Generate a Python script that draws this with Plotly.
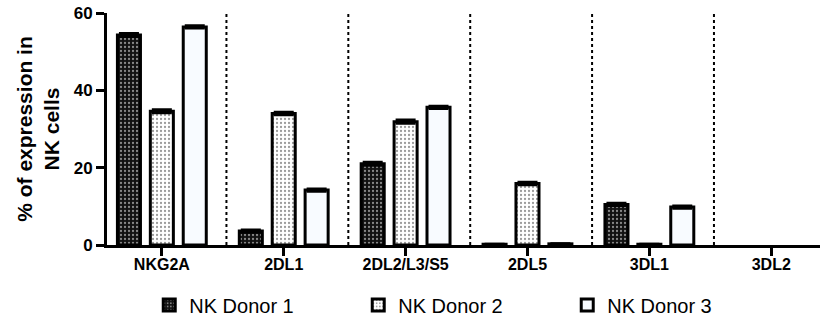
import numpy as np
import plotly.graph_objects as go

# KIR / NKG2A receptor expression on NK cells from three donors
receptors = ["NKG2A", "2DL1", "2DL2/L3/S5", "2DL5", "3DL1", "3DL2"]
donor1 = [54.3, 3.6, 21.0, 0.2, 10.5, 0.0]
donor2 = [34.6, 34.0, 31.9, 15.9, 0.2, 0.0]
donor3 = [56.4, 14.2, 35.6, 0.3, 9.8, 0.0]
# SEM; NaN where no error bar is drawn
donor1_err = [0.4, 0.3, 0.4, 0.0, 0.3, np.nan]
donor2_err = [0.4, 0.3, 0.4, 0.3, 0.0, np.nan]
donor3_err = [0.3, 0.3, 0.3, 0.0, 0.3, np.nan]
series_names = ["NK Donor 1", "NK Donor 2", "NK Donor 3"]
y_ticks = [0, 20, 40, 60]

FONT = "Liberation Sans, Arial, sans-serif"

fig = go.Figure()

styles = [
    dict(color="#111111", pattern=dict(shape=".", fgcolor="#ffffff", bgcolor="#111111",
                                        size=4, solidity=0.25)),
    dict(color="#ffffff", pattern=dict(shape=".", fgcolor="#333333", bgcolor="#ffffff",
                                        size=4, solidity=0.25)),
    dict(color="#f8fbff", pattern=None),
]

for name, vals, errs, st in zip(series_names, [donor1, donor2, donor3],
                                [donor1_err, donor2_err, donor3_err], styles):
    # empty bars get no outline so nothing is drawn above the axis
    outline = [3 if v > 0 else 0 for v in vals]
    marker = dict(color=st["color"], line=dict(color="black", width=outline))
    if st["pattern"]:
        marker["pattern"] = st["pattern"]
    fig.add_trace(go.Bar(
        x=receptors, y=vals, name=name, marker=marker,
        error_y=dict(type="data", array=np.array(errs, dtype=float), visible=True,
                     color="black", thickness=3, width=10),
    ))

# dotted separators between receptor groups
for i in range(len(receptors) - 1):
    fig.add_shape(type="line", xref="x", yref="y", x0=i + 0.53, x1=i + 0.53,
                  y0=0, y1=60, line=dict(color="black", width=2, dash="dot"))

fig.update_layout(
    width=820, height=323,
    margin=dict(l=107, r=0, t=13, b=78, autoexpand=False),
    plot_bgcolor="white", paper_bgcolor="white",
    barmode="group", bargap=0.19, bargroupgap=0.3,
    font=dict(family=FONT, color="black"),
    showlegend=True,
    legend=dict(orientation="h", xref="container", x=0.182, xanchor="left",
                yref="container", y=0.056, yanchor="middle",
                font=dict(size=20), entrywidth=164, entrywidthmode="pixels",
                traceorder="normal"),
)

fig.update_xaxes(
    range=[-0.45, 5.4], showline=True, linecolor="black", linewidth=3,
    ticks="outside", ticklen=8, tickwidth=3, tickcolor="black",
    tickfont=dict(size=16, family=FONT, weight="bold"), ticklabelstandoff=-5,
    showgrid=False, zeroline=False,
)
fig.update_yaxes(
    range=[0, 60], tickvals=y_ticks, showline=True, linecolor="black", linewidth=3,
    ticks="outside", ticklen=8, tickwidth=3, tickcolor="black",
    tickfont=dict(size=17, family=FONT, weight="bold"),
    title=dict(text="% of expression in<br>NK cells", standoff=9,
               font=dict(size=21, family=FONT, weight="bold")),
    showgrid=False, zeroline=False,
)

fig.write_html("out.html")
